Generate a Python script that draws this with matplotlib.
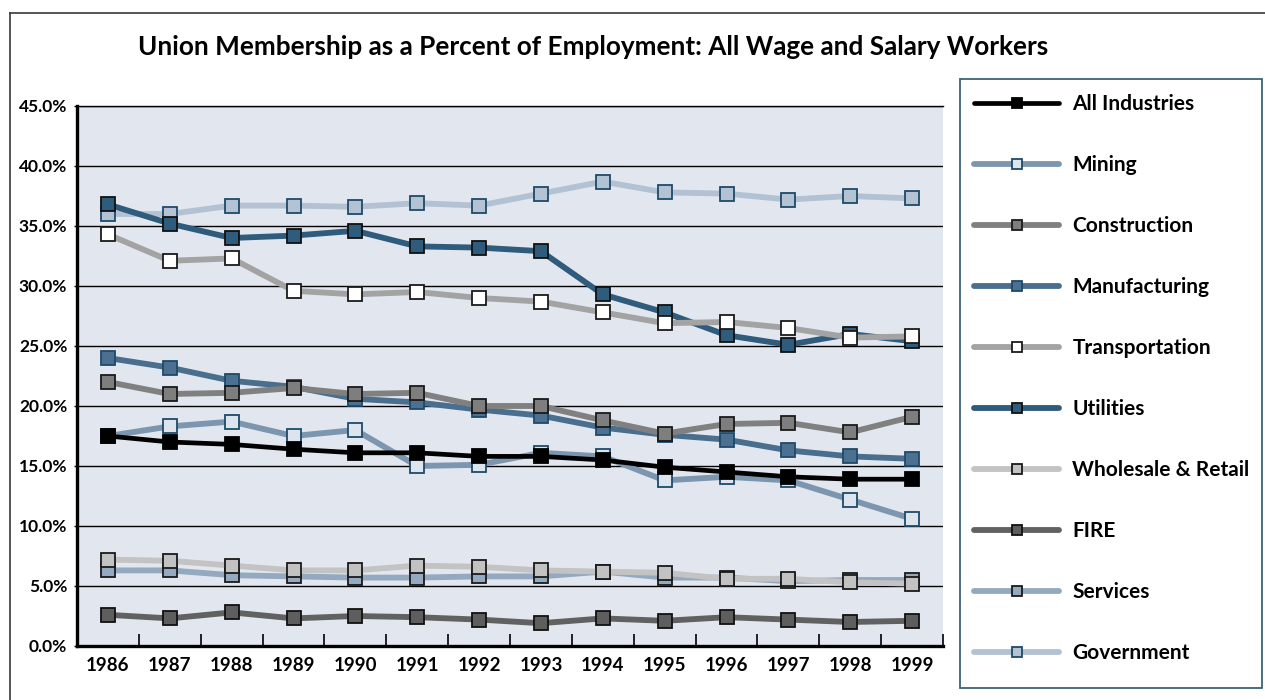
import matplotlib
matplotlib.use("Agg")
import matplotlib.pyplot as plt
from matplotlib.patches import Rectangle
from matplotlib.lines import Line2D
from matplotlib.ticker import MultipleLocator, FixedLocator, FuncFormatter

plt.rcParams['font.family'] = ['Lato', 'DejaVu Sans']

years = ["1986", "1987", "1988", "1989", "1990", "1991", "1992",
         "1993", "1994", "1995", "1996", "1997", "1998", "1999"]

all_industries = [17.5, 17.0, 16.8, 16.4, 16.1, 16.1, 15.8, 15.8, 15.5, 14.9, 14.5, 14.1, 13.9, 13.9]
mining = [17.5, 18.3, 18.7, 17.5, 18.0, 15.0, 15.1, 16.1, 15.8, 13.8, 14.1, 13.8, 12.2, 10.6]
construction = [22.0, 21.0, 21.1, 21.5, 21.0, 21.1, 20.0, 20.0, 18.8, 17.7, 18.5, 18.6, 17.8, 19.1]
manufacturing = [24.0, 23.2, 22.1, 21.6, 20.6, 20.3, 19.7, 19.2, 18.2, 17.6, 17.2, 16.3, 15.8, 15.6]
transportation = [34.3, 32.1, 32.3, 29.6, 29.3, 29.5, 29.0, 28.7, 27.8, 26.9, 27.0, 26.5, 25.7, 25.8]
utilities = [36.8, 35.2, 34.0, 34.2, 34.6, 33.3, 33.2, 32.9, 29.3, 27.8, 25.9, 25.1, 26.0, 25.4]
wholesale_retail = [7.2, 7.1, 6.7, 6.3, 6.3, 6.7, 6.6, 6.3, 6.2, 6.1, 5.6, 5.6, 5.3, 5.2]
fire = [2.6, 2.3, 2.8, 2.3, 2.5, 2.4, 2.2, 1.9, 2.3, 2.1, 2.4, 2.2, 2.0, 2.1]
services = [6.3, 6.3, 5.9, 5.8, 5.7, 5.7, 5.8, 5.8, 6.2, 5.7, 5.7, 5.4, 5.5, 5.5]
government = [36.0, 36.0, 36.7, 36.7, 36.6, 36.9, 36.7, 37.7, 38.7, 37.8, 37.7, 37.2, 37.5, 37.3]

series_names = ["All Industries", "Mining", "Construction", "Manufacturing", "Transportation",
                "Utilities", "Wholesale & Retail", "FIRE", "Services", "Government"]
series_values = [all_industries, mining, construction, manufacturing, transportation,
                 utilities, wholesale_retail, fire, services, government]

# (line colour, marker face, marker edge)
styles = [
    ("#000000", "#000000", "#000000"),
    ("#7C96B0", "#DCE5EE", "#1E4A68"),
    ("#808080", "#7E7E7E", "#1A1A1A"),
    ("#4A6E8E", "#4C7091", "#1E4A68"),
    ("#A3A3A3", "#FFFFFF", "#1A1A1A"),
    ("#2F5B7C", "#2F5B7C", "#111111"),
    ("#C3C3C3", "#C2C2C2", "#1A1A1A"),
    ("#616161", "#5E5E5E", "#111111"),
    ("#93A9BF", "#94AAC1", "#1A1A1A"),
    ("#B2C2D3", "#B3C3D4", "#1E4A68"),
]

W, H = 1265, 700
fig = plt.figure(figsize=(W / 100, H / 100), dpi=100)

# outer frame (left and top visible)
fig.add_artist(Line2D([10 / W, 10 / W], [0, 1 - 13 / H], transform=fig.transFigure,
                      color="#3A3A3A", lw=1.2))
fig.add_artist(Line2D([10 / W, 1], [1 - 13 / H, 1 - 13 / H], transform=fig.transFigure,
                      color="#3A3A3A", lw=1.2))

ax = fig.add_axes([77 / W, 1 - 646 / H, (943 - 77) / W, (646 - 106) / H])
ax.set_facecolor("#E2E7EF")

x = list(range(len(years)))
n = len(series_names)
handles = []
for i, (name, vals, (lc, mf, me)) in enumerate(zip(series_names, series_values, styles)):
    lw = 3.4 if i == 0 else 4.2
    h, = ax.plot(x, vals, color=lc, lw=lw, marker="s", markersize=9.8,
                 markerfacecolor=mf, markeredgecolor=me, markeredgewidth=1.3,
                 zorder=10 + (n - i), label=name, solid_capstyle="round",
                 solid_joinstyle="round")
    handles.append(h)

ax.set_xlim(-0.5, len(years) - 0.5)
ax.set_ylim(0, 45)
ax.yaxis.set_major_locator(MultipleLocator(5))
ax.yaxis.set_major_formatter(FuncFormatter(lambda v, p: f"{v:.1f}%"))
ax.grid(axis="y", color="#000000", lw=1.0, zorder=1)
ax.set_axisbelow(True)

ax.set_xticks(x)
ax.set_xticklabels(years)
ax.xaxis.set_minor_locator(FixedLocator([k + 0.5 for k in x]))
ax.tick_params(axis="x", which="major", length=0, pad=8, labelsize=13.5)
ax.tick_params(axis="x", which="minor", direction="in", length=8.5, width=1.2, color="#000000")
ax.tick_params(axis="y", which="major", length=2, width=1, pad=5, labelsize=12.5)
for lab in ax.get_xticklabels() + ax.get_yticklabels():
    lab.set_fontweight("bold")

ax.spines["right"].set_visible(False)
ax.spines["top"].set_linewidth(1.0)
ax.spines["left"].set_linewidth(2.4)
ax.spines["bottom"].set_linewidth(2.4)

fig.text(593 / W, 1 - 47 / H,
         "Union Membership as a Percent of Employment: All Wage and Salary Workers",
         ha="center", va="center", fontsize=18.8, fontweight="bold")

# legend frame
fig.add_artist(Rectangle((960 / W, 1 - 688 / H), 302 / W, 609 / H, transform=fig.transFigure,
                         facecolor="white", edgecolor="#3E6178", lw=1.3, zorder=1))

leg = fig.legend(handles, series_names, loc="upper left",
                 bbox_to_anchor=(974 / W, 1 - 94 / H), frameon=False,
                 handlelength=4.1, handletextpad=0.62, labelspacing=1.97,
                 fontsize=15, borderpad=0, borderaxespad=0, markerscale=0.78)
for t in leg.get_texts():
    t.set_fontweight("bold")
leg.set_zorder(5)

fig.savefig("out.png", dpi=100)
